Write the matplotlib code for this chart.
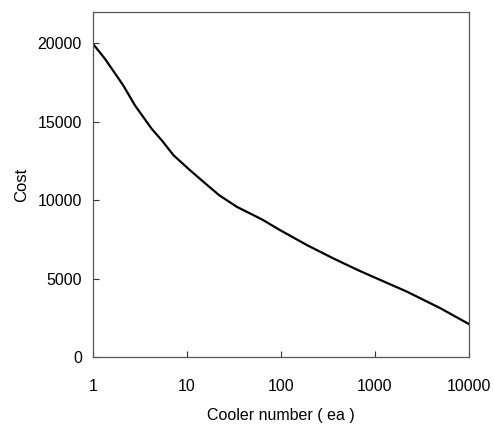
import numpy as np
import matplotlib
matplotlib.use("Agg")
import matplotlib.pyplot as plt
from matplotlib.ticker import FixedLocator, NullLocator

# values
cooler_number = [1, 1.34, 2.1, 2.8, 4.2, 5.4, 7.2, 10.8, 15, 22, 34, 63, 98,
                 190, 360, 660, 950, 2200, 5000, 10000]
cost = [19980, 19030, 17330, 16050, 14570, 13820, 12870, 11910, 11170, 10320,
        9575, 8770, 8090, 7130, 6290, 5540, 5120, 4160, 3100, 2100]

x_ticks = [1, 10, 100, 1000, 10000]
x_tick_labels = ["1", "10", "100", "1000", "10000"]
y_ticks = [0, 5000, 10000, 15000, 20000]

plt.rcParams["font.family"] = ["Liberation Sans", "DejaVu Sans"]

fig = plt.figure(figsize=(4.94, 4.30), dpi=100)
ax = fig.add_axes([0.188, 0.170, 0.761, 0.802])

ax.plot(cooler_number, cost, color="black", lw=1.6)

ax.set_xscale("log")
ax.set_xlim(1, 10000)
ax.set_ylim(0, 22000)

ax.xaxis.set_major_locator(FixedLocator(x_ticks))
ax.xaxis.set_minor_locator(NullLocator())
ax.set_xticks(x_ticks)
ax.set_xticklabels(x_tick_labels)
ax.set_yticks(y_ticks)

ax.tick_params(direction="in", length=4, width=0.8, labelsize=11.5,
               colors="#333333", labelcolor="black")
ax.tick_params(axis="x", pad=16)
ax.tick_params(axis="y", pad=8)
for s in ax.spines.values():
    s.set_linewidth(0.9)
    s.set_color("#555555")

ax.set_xlabel("Cooler number ( ea )", fontsize=11.5, labelpad=10)
ax.set_ylabel("Cost", fontsize=12, labelpad=6)

fig.savefig("out.png", dpi=100)
plt.close(fig)
